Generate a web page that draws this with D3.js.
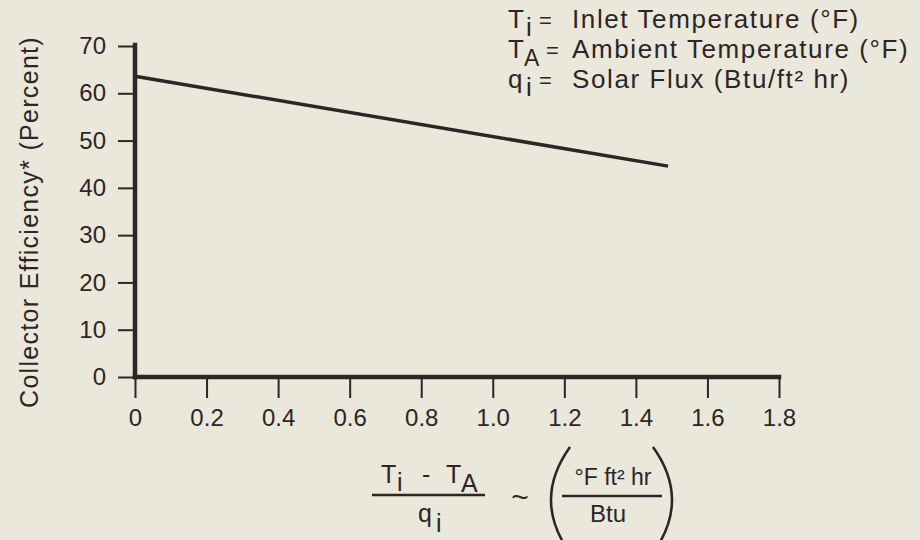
<!DOCTYPE html>
<html>
<head>
<meta charset="utf-8">
<script src="https://cdn.jsdelivr.net/npm/d3@7"></script>
<style>
  html, body { margin: 0; padding: 0; background: #e9e8da; }
  svg { display: block; }
  text { font-family: "Liberation Sans", Arial, Helvetica, sans-serif; fill: #2d2526; }
</style>
</head>
<body>
<svg id="chart" width="920" height="540"></svg>
<script>
// ---- data ----
const xTicks = [0, 0.2, 0.4, 0.6, 0.8, 1.0, 1.2, 1.4, 1.6, 1.8];
const xTickLabels = ["0", "0.2", "0.4", "0.6", "0.8", "1.0", "1.2", "1.4", "1.6", "1.8"];
const yTicks = [0, 10, 20, 30, 40, 50, 60, 70];
const lineX = [0, 1.49];
const lineY = [63.6, 44.6];
const legendSymbols = ["T", "T", "q"];
const legendSubs = ["i", "A", "i"];
const legendTexts = ["Inlet Temperature (°F)", "Ambient Temperature (°F)", "Solar Flux (Btu/ft² hr)"];
const yLabel = "Collector Efficiency* (Percent)";

const ink = "#2d2526";
const svg = d3.select("#chart");

const x = d3.scaleLinear().domain([0, 1.8]).range([135, 779]);
const y = d3.scaleLinear().domain([0, 70]).range([377, 46]);

// x axis
const xAxis = d3.axisBottom(x).tickValues(xTicks)
  .tickFormat((d, i) => xTickLabels[i]).tickSize(21).tickPadding(11);
const gx = svg.append("g").attr("transform", `translate(0,${y(0)})`).call(xAxis);
gx.select(".domain").remove();
gx.selectAll(".tick line").attr("stroke", ink).attr("stroke-width", 2);
gx.selectAll(".tick text").style("font-size", "24px").attr("fill", ink);
svg.append("line").attr("x1", x(0)).attr("x2", x(1.8)).attr("y1", y(0)).attr("y2", y(0))
  .attr("stroke", ink).attr("stroke-width", 4.5).attr("stroke-linecap", "square");

// y axis
const yAxis = d3.axisLeft(y).tickValues(yTicks).tickSize(17).tickPadding(12);
const gy = svg.append("g").attr("transform", `translate(${x(0)},0)`).call(yAxis);
gy.select(".domain").remove();
gy.selectAll(".tick line").attr("stroke", ink).attr("stroke-width", 2);
gy.selectAll(".tick text").style("font-size", "24px").attr("fill", ink);
svg.append("line").attr("x1", x(0)).attr("x2", x(0)).attr("y1", y(70) - 1).attr("y2", y(0))
  .attr("stroke", ink).attr("stroke-width", 4.5).attr("stroke-linecap", "square");

// data line
const pts = lineX.map((v, i) => [v, lineY[i]]);
svg.append("path").datum(pts)
  .attr("d", d3.line().x(d => x(d[0])).y(d => y(d[1])))
  .attr("fill", "none").attr("stroke", ink).attr("stroke-width", 3.5);

// y label
svg.append("text")
  .attr("transform", `translate(38,222) rotate(-90)`)
  .attr("text-anchor", "middle").style("font-size", "25px").style("letter-spacing", "1.3px")
  .text(yLabel);

// legend
const lg = svg.append("g");
legendTexts.forEach((t, i) => {
  const by = 28 + i * 30;
  lg.append("text").attr("x", 508).attr("y", by).style("font-size", "26px").text(legendSymbols[i]);
  lg.append("text").attr("x", i === 1 ? 524 : 526).attr("y", by + 8).style("font-size", i === 1 ? "23px" : "26px").text(legendSubs[i]);
  lg.append("text").attr("x", i === 1 ? 546 : 539).attr("y", by).style("font-size", "22px").text("=");
  lg.append("text").attr("x", 572).attr("y", by).style("font-size", "26px").style("letter-spacing", "1.6px").text(t);
});

// x label formula
const f = svg.append("g").style("font-size", "25px");
f.append("text").attr("x", 381).attr("y", 483).text("T");
f.append("text").attr("x", 397).attr("y", 491).text("i");
f.append("text").attr("x", 422).attr("y", 483).text("-");
f.append("text").attr("x", 446).attr("y", 483).text("T");
f.append("text").attr("x", 461).attr("y", 492).text("A");
f.append("line").attr("x1", 372).attr("x2", 485).attr("y1", 495).attr("y2", 495)
  .attr("stroke", ink).attr("stroke-width", 2.5);
f.append("text").attr("x", 418).attr("y", 522).text("q");
f.append("text").attr("x", 436).attr("y", 532).text("i");
f.append("text").attr("x", 520).attr("y", 507).attr("text-anchor", "middle").style("font-size", "30px").text("~");
// parentheses
f.append("path").attr("d", "M570,447 Q532,500 570,553").attr("fill", "none").attr("stroke", ink).attr("stroke-width", 2.5);
f.append("path").attr("d", "M653,447 Q691,500 653,553").attr("fill", "none").attr("stroke", ink).attr("stroke-width", 2.5);
f.append("text").attr("x", 613).attr("y", 485).attr("text-anchor", "middle").style("font-size", "23px").text("°F ft² hr");
f.append("line").attr("x1", 562).attr("x2", 662).attr("y1", 496).attr("y2", 496)
  .attr("stroke", ink).attr("stroke-width", 2.5);
f.append("text").attr("x", 608).attr("y", 522).attr("text-anchor", "middle").style("font-size", "24px").text("Btu");
</script>
</body>
</html>
